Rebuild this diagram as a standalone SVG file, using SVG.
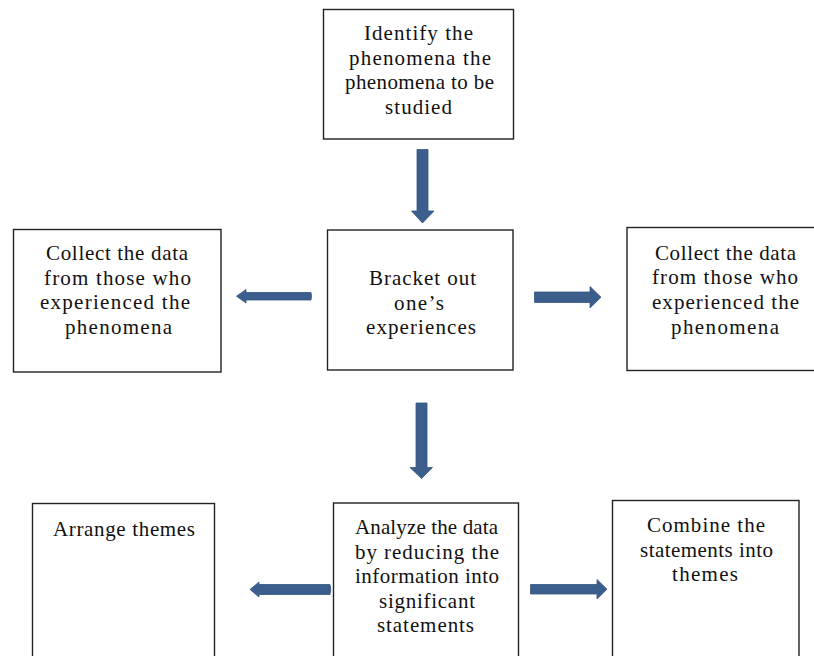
<svg xmlns="http://www.w3.org/2000/svg" width="814" height="656" viewBox="0 0 814 656">
<style>
.box{fill:#fff;stroke:#222;stroke-width:1.4}
.t{font-family:"Liberation Serif","Times New Roman",serif;font-size:21px;fill:#111;text-anchor:middle}
.arr{fill:#3b5e8d;stroke:#345580;stroke-width:0.8}
</style>
<rect width="814" height="656" fill="#fff"/>
<g id="identify">
<rect class="box" x="323.5" y="9.5" width="190" height="129.5"/>
<text class="t" x="418.5" y="40" textLength="109" lengthAdjust="spacing">Identify the</text>
<text class="t" x="420" y="64.5" textLength="142" lengthAdjust="spacing">phenomena the</text>
<text class="t" x="419.5" y="89" textLength="149" lengthAdjust="spacing">phenomena to be</text>
<text class="t" x="418.5" y="113.5" textLength="67" lengthAdjust="spacing">studied</text>
</g>
<g id="bracket">
<rect class="box" x="327.5" y="230" width="185.5" height="140"/>
<text class="t" x="422.5" y="285" textLength="107" lengthAdjust="spacing">Bracket out</text>
<text class="t" x="419" y="309.5" textLength="50" lengthAdjust="spacing">one’s</text>
<text class="t" x="421" y="334" textLength="110" lengthAdjust="spacing">experiences</text>
</g>
<g id="collect-left">
<rect class="box" x="13.5" y="229.5" width="207.5" height="142.5"/>
<text class="t" x="117" y="260" textLength="142" lengthAdjust="spacing">Collect the data</text>
<text class="t" x="117.5" y="284.5" textLength="147" lengthAdjust="spacing">from those who</text>
<text class="t" x="115" y="309" textLength="150" lengthAdjust="spacing">experienced the</text>
<text class="t" x="118.5" y="334" textLength="107" lengthAdjust="spacing">phenomena</text>
</g>
<g id="collect-right">
<rect class="box" x="627" y="227.5" width="190" height="143"/>
<text class="t" x="725.5" y="259.5" textLength="141" lengthAdjust="spacing">Collect the data</text>
<text class="t" x="725" y="284" textLength="146" lengthAdjust="spacing">from those who</text>
<text class="t" x="725.5" y="308.5" textLength="147" lengthAdjust="spacing">experienced the</text>
<text class="t" x="725" y="333.5" textLength="108" lengthAdjust="spacing">phenomena</text>
</g>
<g id="analyze">
<rect class="box" x="333.5" y="503" width="185" height="160"/>
<text class="t" x="426.5" y="534" textLength="143" lengthAdjust="spacing">Analyze the data</text>
<text class="t" x="427" y="558.5" textLength="144" lengthAdjust="spacing">by reducing the</text>
<text class="t" x="427" y="583" textLength="144" lengthAdjust="spacing">information into</text>
<text class="t" x="427" y="607.5" textLength="96" lengthAdjust="spacing">significant</text>
<text class="t" x="425.5" y="632" textLength="97" lengthAdjust="spacing">statements</text>
</g>
<g id="arrange">
<rect class="box" x="32.5" y="503.5" width="182" height="160"/>
<text class="t" x="124" y="536" textLength="142" lengthAdjust="spacing">Arrange themes</text>
</g>
<g id="combine">
<rect class="box" x="612.5" y="500.5" width="186.5" height="163"/>
<text class="t" x="706" y="532" textLength="118" lengthAdjust="spacing">Combine the</text>
<text class="t" x="706.5" y="556.5" textLength="133" lengthAdjust="spacing">statements into</text>
<text class="t" x="705" y="581" textLength="66" lengthAdjust="spacing">themes</text>
</g>
<g id="connectors">
<path class="arr" d="M417,149.5 H428 V211 H434 L422.5,223 L411.5,211 H417 Z"/>
<path class="arr" d="M416,403 H427 V467.5 H432.5 L421.5,478.5 L410,467.5 H416 Z"/>
<path class="arr" d="M311,292.5 Q312,296 311,300 H246 V303 L236.5,296.2 L246,289.5 V292.5 Z"/>
<path class="arr" d="M534.5,292 H590 V286.5 L601,297.2 L590,308 V302.5 H534.5 Z"/>
<path class="arr" d="M330,584.5 Q331.5,589.5 330,594.5 H259 V597 L250,589.5 L259,582 V584.5 Z"/>
<path class="arr" d="M530.5,584.5 H597 V579.5 L607,589.2 L597,599 V594 H530.5 Z"/>
</g>
</svg>
